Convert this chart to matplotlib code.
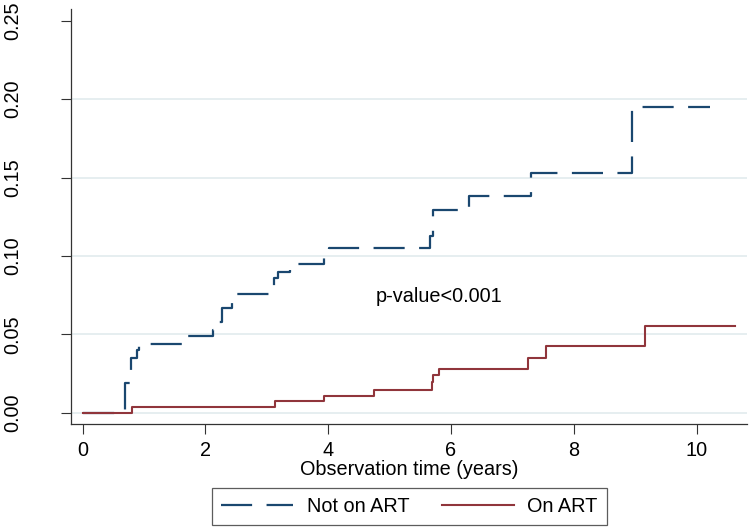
import matplotlib
matplotlib.use('Agg')
import matplotlib.pyplot as plt

# Kaplan-Meier failure estimates
not_art_t = [0.0, 0.69, 0.79, 0.88, 0.92, 1.65, 2.12, 2.21, 2.27, 2.44,
             3.12, 3.19, 3.38, 3.93, 4.02, 5.66, 5.71, 6.29, 7.31, 8.95, 10.22]
not_art_f = [0.0, 0.019, 0.035, 0.040, 0.044, 0.049, 0.053, 0.058, 0.067, 0.076,
             0.086, 0.090, 0.095, 0.0995, 0.105, 0.113, 0.129, 0.138, 0.153, 0.195, 0.195]

on_art_t = [0.0, 0.81, 3.13, 3.93, 4.75, 5.69, 5.71, 5.81, 7.26, 7.54, 9.16, 10.63]
on_art_f = [0.0, 0.0036, 0.0073, 0.0109, 0.0145, 0.0198, 0.024, 0.0279, 0.0351, 0.0425, 0.0553, 0.0553]

x_ticks = [0, 2, 4, 6, 8, 10]
y_ticks = [0.00, 0.05, 0.10, 0.15, 0.20, 0.25]
grid_levels = [0.00, 0.05, 0.10, 0.15, 0.20]

plt.rcParams['font.family'] = ['Liberation Sans', 'DejaVu Sans']
fs = 14.3

fig = plt.figure(figsize=(7.51, 5.28), dpi=100)
ax = fig.add_axes([0.094, 0.1964, 0.9007, 0.786])

for g in grid_levels:
    ax.axhline(g, color='#e6eef0', lw=1.4, zorder=0)

ax.step(not_art_t, not_art_f, where='post', color='#1a476f', lw=1.6,
        linestyle=(0, (14, 6.5)), label='Not on ART', zorder=2)
ax.step(on_art_t, on_art_f, where='post', color='#90353b', lw=1.5,
        label='On ART', zorder=3)

ax.text(4.78, 0.074, 'p-value<0.001', fontsize=fs, va='center', ha='left')

ax.set_xlim(-0.195, 10.82)
ax.set_ylim(-0.0074, 0.2573)
ax.set_xticks(x_ticks)
ax.set_yticks(y_ticks)
ax.set_yticklabels(['%.2f' % v for v in y_ticks], rotation=90, va='center')
ax.tick_params(axis='both', length=7, width=0.8, labelsize=fs, color='#333333')
ax.tick_params(axis='y', pad=28)
ax.tick_params(axis='x', pad=5)
ax.set_xlabel('Observation time (years)', fontsize=fs, labelpad=0)

ax.spines['top'].set_visible(False)
ax.spines['right'].set_visible(False)
for s in ['left', 'bottom']:
    ax.spines[s].set_color('#333333')
    ax.spines[s].set_linewidth(0.9)

leg = fig.legend(loc='center', bbox_to_anchor=(0.5453, 0.0407), ncol=2, fontsize=fs,
                 frameon=True, fancybox=False, edgecolor='#333333',
                 handlelength=3.6, handletextpad=0.7, columnspacing=1.65,
                 borderpad=0.47, borderaxespad=0)
leg.get_frame().set_linewidth(0.9)

plt.savefig('out.png', dpi=100)
plt.close()
